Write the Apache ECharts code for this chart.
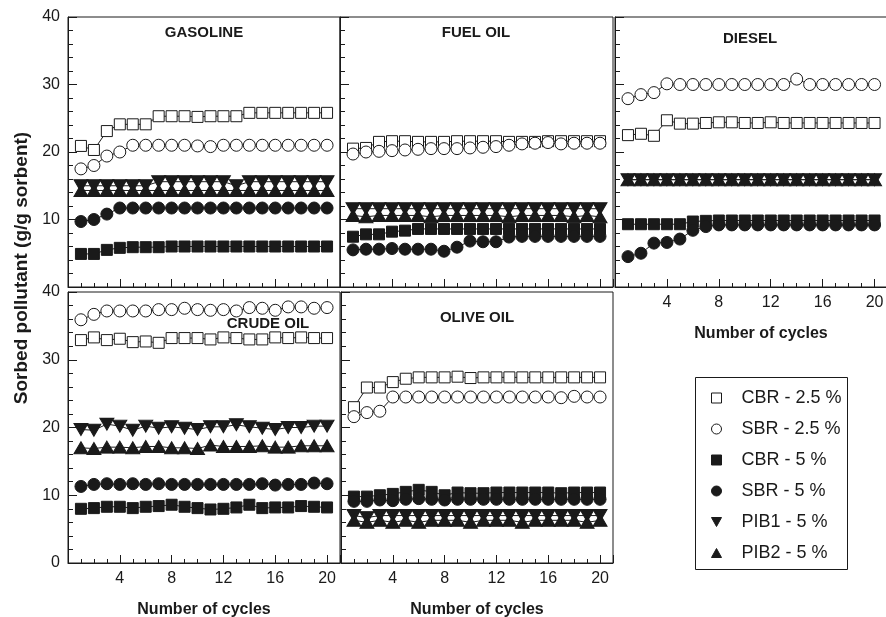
<!DOCTYPE html>
<html><head><meta charset="utf-8">
<script src="https://cdn.jsdelivr.net/npm/echarts@6/dist/echarts.min.js"></script>
<style>html,body{margin:0;padding:0;background:#fff}#c{width:886px;height:617px}</style>
</head><body><div id="c"></div>
<script>
// ---------- data ----------
const cycles = [1,2,3,4,5,6,7,8,9,10,11,12,13,14,15,16,17,18,19,20];
const seriesNames = ['CBR - 2.5 %','SBR - 2.5 %','CBR - 5 %','SBR - 5 %','PIB1 - 5 %','PIB2 - 5 %'];
const panelTitles = ['GASOLINE','FUEL OIL','DIESEL','CRUDE OIL','OLIVE OIL'];
const xTickLabels = ['4','8','12','16','20'];
const yTickLabels = ['0','10','20','30','40'];
const xAxisTitle = 'Number of cycles';
const yAxisTitle = 'Sorbed pollutant (g/g sorbent)';

const gasolineCBR25 = [20.9,20.3,23.1,24.1,24.1,24.1,25.3,25.3,25.3,25.2,25.3,25.3,25.3,25.8,25.8,25.8,25.8,25.8,25.8,25.8];
const gasolineSBR25 = [17.5,18.0,19.4,20.0,21.0,21.0,21.0,21.0,21.0,20.9,20.8,21.0,21.0,21.0,21.0,21.0,21.0,21.0,21.0,21.0];
const gasolineCBR5  = [4.9,4.9,5.5,5.8,5.9,5.9,5.9,6.0,6.0,6.0,6.0,6.0,6.0,6.0,6.0,6.0,6.0,6.0,6.0,6.0];
const gasolineSBR5  = [9.7,10.0,10.8,11.7,11.7,11.7,11.7,11.7,11.7,11.7,11.7,11.7,11.7,11.7,11.7,11.7,11.7,11.7,11.7,11.7];
const gasolinePIB1  = [15.0,15.0,15.0,15.0,15.0,15.0,15.6,15.6,15.6,15.6,15.6,15.6,15.0,15.6,15.6,15.6,15.6,15.6,15.6,15.6];
const gasolinePIB2  = [14.3,14.3,14.3,14.3,14.3,14.3,14.3,14.3,14.3,14.3,14.3,14.3,14.3,14.3,14.3,14.3,14.3,14.3,14.3,14.3];

const fuelCBR25 = [20.5,20.6,21.5,21.6,21.6,21.5,21.5,21.5,21.6,21.6,21.6,21.6,21.5,21.5,21.5,21.6,21.6,21.6,21.6,21.6];
const fuelSBR25 = [19.7,20.0,20.1,20.2,20.3,20.4,20.5,20.5,20.5,20.6,20.7,20.8,21.0,21.2,21.3,21.4,21.2,21.3,21.3,21.3];
const fuelCBR5  = [7.45,7.8,7.8,8.2,8.35,8.6,8.6,8.6,8.6,8.6,8.6,8.6,8.6,8.6,8.6,8.6,8.6,8.6,8.6,8.6];
const fuelSBR5  = [5.5,5.6,5.6,5.7,5.6,5.6,5.6,5.3,5.9,6.8,6.7,6.7,7.4,7.5,7.5,7.5,7.5,7.5,7.5,7.5];
const fuelPIB1  = [11.6,11.6,11.6,11.6,11.6,11.6,11.6,11.6,11.6,11.6,11.6,11.6,11.6,11.6,11.6,11.6,11.6,11.6,11.6,11.6];
const fuelPIB2  = [10.6,10.4,10.6,10.6,10.6,10.6,10.4,10.6,10.6,10.6,10.6,10.6,10.4,10.6,10.6,10.6,10.6,10.4,10.6,10.4];

const dieselCBR25 = [22.5,22.7,22.4,24.7,24.2,24.2,24.3,24.4,24.4,24.3,24.3,24.4,24.3,24.3,24.3,24.3,24.3,24.3,24.3,24.3];
const dieselSBR25 = [27.9,28.5,28.8,30.1,30.0,30.0,30.0,30.0,30.0,30.0,30.0,30.0,30.0,30.8,30.0,30.0,30.0,30.0,30.0,30.0];
const dieselCBR5  = [9.3,9.3,9.3,9.3,9.3,9.7,9.8,9.85,9.85,9.85,9.85,9.85,9.85,9.85,9.85,9.85,9.85,9.85,9.85,9.85];
const dieselSBR5  = [4.5,5.0,6.5,6.6,7.1,8.4,8.95,9.2,9.2,9.2,9.2,9.2,9.2,9.2,9.2,9.2,9.2,9.2,9.2,9.2];
const dieselPIB1  = [15.9,15.9,15.9,15.9,15.9,15.9,15.9,15.9,15.9,15.9,15.9,15.9,15.9,15.9,15.9,15.9,15.9,15.9,15.9,15.9];
const dieselPIB2  = [15.9,15.9,15.9,15.9,15.9,15.9,15.9,15.9,15.9,15.9,15.9,15.9,15.9,15.9,15.9,15.9,15.9,15.9,15.9,15.9];

const crudeCBR25 = [32.9,33.3,32.9,33.1,32.6,32.7,32.5,33.2,33.2,33.2,33.0,33.3,33.2,33.0,33.0,33.3,33.2,33.3,33.2,33.2];
const crudeSBR25 = [35.9,36.7,37.2,37.2,37.2,37.2,37.4,37.4,37.6,37.4,37.3,37.4,37.2,37.7,37.6,37.3,37.8,37.8,37.6,37.7];
const crudeCBR5  = [8.0,8.1,8.3,8.3,8.1,8.3,8.4,8.6,8.3,8.1,7.9,8.0,8.2,8.6,8.1,8.2,8.2,8.4,8.3,8.2];
const crudeSBR5  = [11.3,11.6,11.7,11.6,11.7,11.6,11.7,11.6,11.6,11.6,11.6,11.6,11.6,11.6,11.7,11.5,11.6,11.6,11.8,11.7];
const crudePIB1  = [19.7,19.6,20.5,20.2,19.6,20.2,19.9,20.1,19.9,19.7,20.1,20.1,20.4,20.1,19.9,19.7,20.0,20.0,20.2,20.2];
const crudePIB2  = [17.0,16.9,17.1,17.1,17.0,17.2,17.2,17.0,17.0,16.9,17.4,17.2,17.2,17.2,17.3,17.1,17.1,17.3,17.3,17.3];

const oliveCBR25 = [23.0,25.9,25.9,26.7,27.2,27.4,27.4,27.4,27.5,27.3,27.4,27.4,27.4,27.4,27.4,27.4,27.4,27.4,27.4,27.4];
const oliveSBR25 = [21.6,22.2,22.4,24.5,24.5,24.5,24.5,24.5,24.5,24.5,24.5,24.5,24.5,24.5,24.5,24.5,24.4,24.6,24.5,24.5];
const oliveCBR5  = [9.8,9.8,10.0,10.2,10.5,10.8,10.5,10.0,10.4,10.3,10.3,10.4,10.4,10.4,10.4,10.4,10.3,10.4,10.4,10.4];
const oliveSBR5  = [9.1,9.1,9.3,9.2,9.4,9.5,9.4,9.3,9.4,9.4,9.4,9.4,9.4,9.4,9.4,9.4,9.4,9.4,9.4,9.4];
const olivePIB1  = [7.0,6.7,7.0,7.0,7.0,7.0,7.0,7.0,7.0,7.0,7.0,7.0,7.0,7.0,7.0,7.0,7.0,7.0,7.0,7.0];
const olivePIB2  = [6.3,6.0,6.3,6.0,6.3,6.0,6.3,6.3,6.3,6.0,6.3,6.3,6.3,6.0,6.3,6.3,6.3,6.3,6.0,6.3];

const panelData = [
  [gasolineCBR25, gasolineSBR25, gasolineCBR5, gasolineSBR5, gasolinePIB1, gasolinePIB2],
  [fuelCBR25, fuelSBR25, fuelCBR5, fuelSBR5, fuelPIB1, fuelPIB2],
  [dieselCBR25, dieselSBR25, dieselCBR5, dieselSBR5, dieselPIB1, dieselPIB2],
  [crudeCBR25, crudeSBR25, crudeCBR5, crudeSBR5, crudePIB1, crudePIB2],
  [oliveCBR25, oliveSBR25, oliveCBR5, oliveSBR5, olivePIB1, olivePIB2]
];

// ---------- layout / style ----------
const FONT = '"Liberation Sans", Arial, Helvetica, sans-serif';
const INK = '#1a1a1a';
const grids = [
  {left: 68,  top: 17,  width: 272, height: 270},
  {left: 340, top: 17,  width: 273, height: 270},
  {left: 615, top: 17,  width: 292, height: 270},
  {left: 68,  top: 292, width: 272, height: 271},
  {left: 341, top: 292, width: 272, height: 271}
];
const xMax = [21, 21, 22.5, 21, 21];
const showXLab = [false, false, true, true, true];
const showYLab = [true, false, false, true, false];
const titlePos = [[204, 33], [476, 33], [750, 39], [268, 324], [477, 318]];

const symbolSpec = [
  {symbol: 'rect', size: 11, fill: '#fff'},
  {symbol: 'circle', size: 12, fill: '#fff'},
  {symbol: 'rect', size: 11, fill: INK},
  {symbol: 'circle', size: 12, fill: INK},
  {symbol: 'triangle', size: [14, 12], rotate: 180, fill: INK},
  {symbol: 'triangle', size: [14, 12], fill: INK}
];
const legendIcons = ['rect', 'circle', 'rect', 'circle', 'path://M0,0L10,0L5,9Z', 'path://M5,0L10,9L0,9Z'];

const xAxes = [], yAxes = [], series = [];
grids.forEach((g, p) => {
  g.show = true; g.borderColor = INK; g.borderWidth = 1; g.backgroundColor = 'transparent';
  g.outerBoundsMode = 'none'; g.containLabel = false;
  xAxes.push({
    type: 'value', gridIndex: p, min: 0, max: xMax[p], interval: 1, position: 'bottom',
    axisLine: {show: true, lineStyle: {color: INK, width: 1}},
    axisTick: {show: true, inside: true, length: 4, lineStyle: {color: INK}},
    axisLabel: {show: false}, splitLine: {show: false}
  });
  xAxes.push({
    type: 'value', gridIndex: p, min: 0, max: xMax[p], interval: 4, position: 'bottom',
    axisLine: {show: false},
    axisTick: {show: true, inside: true, length: 8, lineStyle: {color: INK}},
    axisLabel: {show: showXLab[p], margin: 8, fontSize: 16, color: INK, fontFamily: FONT,
      formatter: v => xTickLabels.includes(String(v)) ? String(v) : ''},
    splitLine: {show: false},
    name: showXLab[p] ? xAxisTitle : '', nameLocation: 'middle', nameGap: 39,
    nameTextStyle: {fontSize: 16, fontWeight: 'bold', color: INK, fontFamily: FONT}
  });
  yAxes.push({
    type: 'value', gridIndex: p, min: 0, max: 40, interval: 10,
    axisLine: {show: true, lineStyle: {color: INK, width: 1}},
    axisTick: {show: true, inside: true, length: 9, lineStyle: {color: INK}},
    minorTick: {show: true, splitNumber: 5, length: 5, lineStyle: {color: INK}},
    axisLabel: {show: showYLab[p], margin: 8, fontSize: 16, color: INK, fontFamily: FONT,
      showMinLabel: p === 3,
      formatter: v => yTickLabels.includes(String(v)) ? String(v) : ''},
    splitLine: {show: false}
  });
  panelData[p].forEach((vals, s) => {
    const sp = symbolSpec[s];
    series.push({
      type: 'line', name: seriesNames[s],
      xAxisIndex: p * 2, yAxisIndex: p,
      data: cycles.map((c, i) => [c, vals[i]]),
      symbol: sp.symbol, symbolSize: sp.size, symbolRotate: sp.rotate || 0,
      showAllSymbol: true, clip: false,
      lineStyle: {color: INK, width: 1},
      itemStyle: {color: sp.fill, borderColor: INK, borderWidth: 1, opacity: 1},
      emphasis: {disabled: true}, animation: false
    });
  });
});

const graphics = panelTitles.map((t, i) => ({
  type: 'text', x: titlePos[i][0], y: titlePos[i][1],
  style: {text: t, align: 'center', verticalAlign: 'middle', font: 'bold 15px ' + FONT, fill: INK}
}));
graphics.push({
  type: 'text', x: 22, y: 268, rotation: Math.PI / 2,
  style: {text: yAxisTitle, align: 'center', verticalAlign: 'middle', font: 'bold 19px ' + FONT, fill: INK}
});
graphics.push({
  type: 'rect', shape: {x: 695.5, y: 377.5, width: 152, height: 192},
  style: {fill: 'none', stroke: INK, lineWidth: 1}, z: 10
});

const chart = echarts.init(document.getElementById('c'), null, {renderer: 'canvas'});
chart.setOption({
  animation: false,
  backgroundColor: '#fff',
  grid: grids,
  xAxis: xAxes,
  yAxis: yAxes,
  series: series,
  graphic: graphics,
  legend: {
    orient: 'vertical', left: 706, top: 384, itemWidth: 10, itemHeight: 10, itemGap: 13,
    selectedMode: false,
    textStyle: {fontSize: 18, lineHeight: 18, color: INK, fontFamily: FONT, padding: [0, 0, 0, 15]},
    data: seriesNames.map((n, i) => ({
      name: n, icon: legendIcons[i],
      itemStyle: {color: symbolSpec[i].fill, borderColor: INK, borderWidth: 1}
    }))
  }
});
</script></body></html>
